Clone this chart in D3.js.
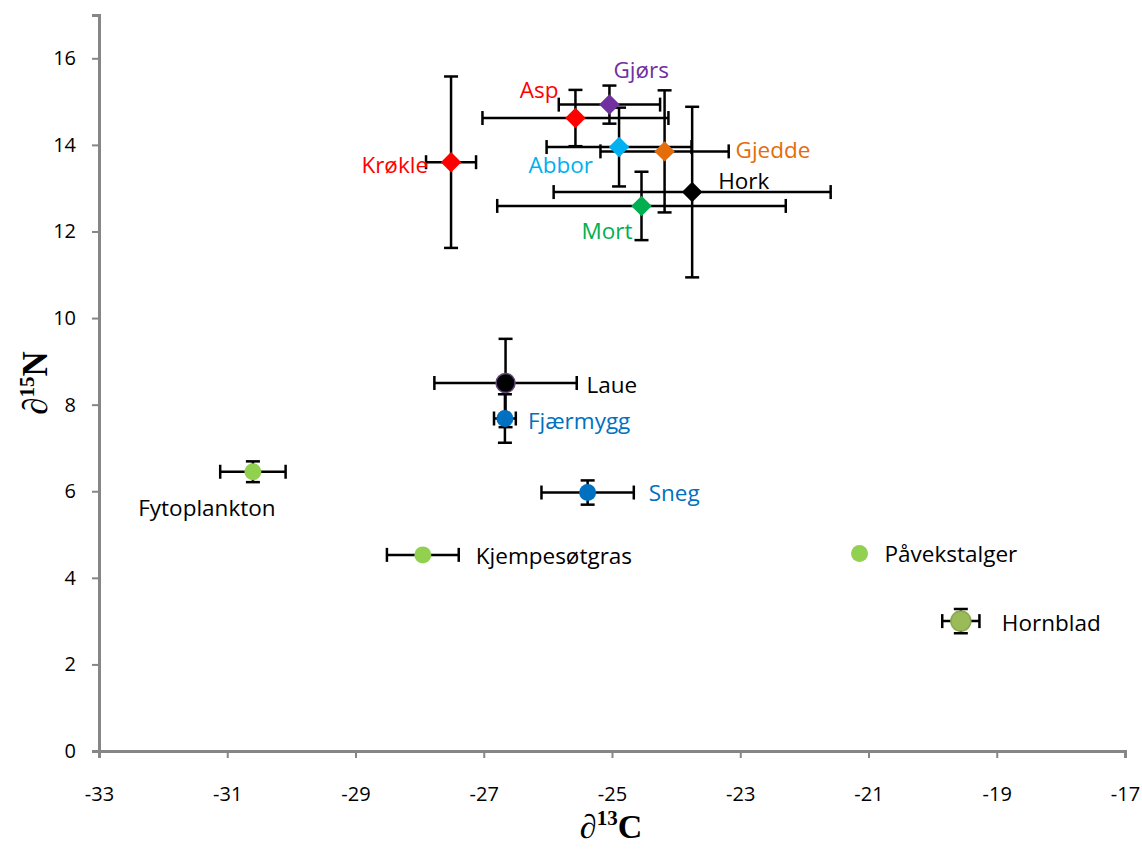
<!DOCTYPE html>
<html>
<head>
<meta charset="utf-8">
<script src="https://cdn.jsdelivr.net/npm/d3@7"></script>
<style>
  body { margin: 0; background: #fff; }
  text { font-family: "Open Sans", "Noto Sans", sans-serif; }
</style>
</head>
<body>
<div id="chart"></div>
<script>
// species / groups, one entry per point
let names = ["Krøkle", "Asp", "Gjørs", "Abbor", "Gjedde", "Hork", "Mort",
             "Laue", "Fjærmygg", "Sneg", "Fytoplankton", "Kjempesøtgras", "Påvekstalger", "Hornblad"];
let d13C = [-27.51, -25.57, -25.04, -24.89, -24.18, -23.75, -24.54,
            -26.66, -26.67, -25.38, -30.60, -27.95, -21.14, -19.56];
let d15N = [13.60, 14.62, 14.93, 13.95, 13.85, 12.91, 12.59,
            8.50, 7.68, 5.97, 6.45, 4.53, 4.56, 3.00];
let errC = [0.39, 1.45, 0.79, 1.13, 1.00, 2.16, 2.25,
            1.11, 0.17, 0.72, 0.51, 0.56, 0, 0.29];
let errN = [1.98, 0.65, 0.44, 0.91, 1.41, 1.97, 0.79,
            1.02, 0.56, 0.28, 0.24, 0, 0, 0.28];
let shapes = ["diamond", "diamond", "diamond", "diamond", "diamond", "diamond", "diamond",
              "circle", "circle", "circle", "circle", "circle", "circle", "circle"];
let colors = ["#FF0000", "#FF0000", "#7030A0", "#00B0F0", "#E46C0A", "#000000", "#00B050",
              "#000000", "#0070C0", "#0070C0", "#92D050", "#92D050", "#92D050", "#9BBB59"];
let labelColors = ["#FF0000", "#FF0000", "#7030A0", "#00B0F0", "#E46C0A", "#000000", "#00B050",
                   "#000000", "#0070C0", "#0070C0", "#000000", "#000000", "#000000", "#000000"];
let xTicks = [-33, -31, -29, -27, -25, -23, -21, -19, -17];
let yTicks = [0, 2, 4, 6, 8, 10, 12, 14, 16];

// label placement relative to the point: dx, dy, anchor
let labelPlace = [
    [-23, 11, "end"], [-17, -20, "end"], [4, -27, "start"], [-26, 26, "end"],
    [71, 7, "start"], [26, -3, "start"], [-9, 33, "end"],
    [81, 10, "start"], [23, 10, "start"], [61, 8, "start"],
    [-46, 44, "middle"], [53, 9, "start"], [25, 8, "start"], [41, 10, "start"]
];

let data = names.map(function(n, i) {
    return {name: n, c: d13C[i], n: d15N[i], ec: errC[i], en: errN[i],
            shape: shapes[i], color: colors[i], lcolor: labelColors[i], lp: labelPlace[i]};
});

let width = 1142, height = 850;
let margin = {top: 15, bottom: 99, left: 99, right: 17};

let svg = d3.select("#chart").append("svg")
    .attr("width", width)
    .attr("height", height);

let xScale = d3.scaleLinear().domain([-33, -17]).range([margin.left, width - margin.right]);
let yScale = d3.scaleLinear().domain([0, 17]).range([height - margin.bottom, margin.top]);

// axes
let xAxis = svg.append("g")
    .attr("transform", "translate(0," + yScale(0) + ")")
    .call(d3.axisBottom(xScale).tickValues(xTicks).tickSize(7).tickPadding(29));
let yAxis = svg.append("g")
    .attr("transform", "translate(" + xScale(-33) + ",0)")
    .call(d3.axisLeft(yScale).tickValues(yTicks).tickSize(7).tickPadding(16));

[xAxis, yAxis].forEach(function(a) {
    a.select(".domain").attr("stroke", "#868686").attr("stroke-width", 3);
    a.selectAll(".tick line").attr("stroke", "#868686").attr("stroke-width", 2);
    a.selectAll(".tick text").attr("font-size", 20).attr("fill", "#000")
        .style("font-family", "'Open Sans', sans-serif");
});
xAxis.selectAll(".tick text").text(function(d) { return String(d); });

// error bars
let cap = 7;
let eb = svg.append("g").attr("stroke", "#000").attr("stroke-width", 2.5).attr("fill", "none");
data.forEach(function(d) {
    if (d.ec > 0) {
        let x1 = xScale(d.c - d.ec), x2 = xScale(d.c + d.ec), y = yScale(d.n);
        eb.append("line").attr("x1", x1).attr("x2", x2).attr("y1", y).attr("y2", y);
        eb.append("line").attr("x1", x1).attr("x2", x1).attr("y1", y - cap).attr("y2", y + cap);
        eb.append("line").attr("x1", x2).attr("x2", x2).attr("y1", y - cap).attr("y2", y + cap);
    }
    if (d.en > 0) {
        let y1 = yScale(d.n - d.en), y2 = yScale(d.n + d.en), x = xScale(d.c);
        eb.append("line").attr("x1", x).attr("x2", x).attr("y1", y1).attr("y2", y2);
        eb.append("line").attr("x1", x - cap).attr("x2", x + cap).attr("y1", y1).attr("y2", y1);
        eb.append("line").attr("x1", x - cap).attr("x2", x + cap).attr("y1", y2).attr("y2", y2);
    }
});

// markers
let diamond = d3.symbol().type(d3.symbolSquare).size(210);
svg.selectAll(".dia")
    .data(data.filter(function(d) { return d.shape == "diamond"; }))
    .enter().append("path")
    .attr("class", "dia")
    .attr("d", diamond)
    .attr("transform", function(d) { return "translate(" + xScale(d.c) + "," + yScale(d.n) + ") rotate(45)"; })
    .attr("fill", function(d) { return d.color; });

svg.selectAll(".dot")
    .data(data.filter(function(d) { return d.shape == "circle"; }))
    .enter().append("circle")
    .attr("class", "dot")
    .attr("cx", function(d) { return xScale(d.c); })
    .attr("cy", function(d) { return yScale(d.n); })
    .attr("r", function(d) { return d.name == "Hornblad" ? 10 : (d.name == "Laue" ? 9.5 : 8.5); })
    .attr("fill", function(d) { return d.color; })
    .attr("stroke", function(d) {
        if (d.name == "Laue") return "#60497A";
        if (d.name == "Hornblad") return "#8AA64E";
        return "none";
    })
    .attr("stroke-width", 1.5);

// point labels
svg.selectAll(".lbl")
    .data(data)
    .enter().append("text")
    .attr("class", "lbl")
    .attr("x", function(d) { return xScale(d.c) + d.lp[0]; })
    .attr("y", function(d) { return yScale(d.n) + d.lp[1]; })
    .attr("text-anchor", function(d) { return d.lp[2]; })
    .attr("font-size", 22.5)
    .attr("fill", function(d) { return d.lcolor; })
    .text(function(d) { return d.name; });

// axis titles
let xt = svg.append("text")
    .attr("x", 611).attr("y", 838)
    .attr("text-anchor", "middle")
    .style("font-family", "'Liberation Serif', 'DejaVu Serif', serif")
    .attr("font-weight", "bold")
    .attr("font-size", 34);
xt.append("tspan").text("∂").attr("font-style", "italic").attr("font-weight", "normal");
xt.append("tspan").text("13").attr("font-size", 21).attr("dy", -13);
xt.append("tspan").text("C").attr("dy", 13);

let yt = svg.append("text")
    .attr("transform", "translate(47," + 383 + ") rotate(-90)")
    .attr("text-anchor", "middle")
    .style("font-family", "'Liberation Serif', 'DejaVu Serif', serif")
    .attr("font-weight", "bold")
    .attr("font-size", 35);
yt.append("tspan").text("∂").attr("font-style", "italic").attr("font-weight", "normal");
yt.append("tspan").text("15").attr("font-size", 21).attr("dy", -13);
yt.append("tspan").text("N").attr("dy", 13);
</script>
</body>
</html>
